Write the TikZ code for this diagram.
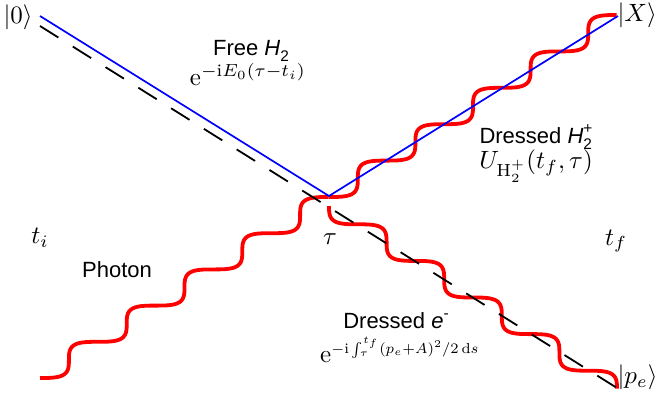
\documentclass[tikz,border=0pt]{standalone}
\usepackage{amsmath}
\usepackage{fontspec}
\newfontfamily\arial{Liberation Sans}
\newcommand\smallsans{\scriptsize}
\begin{document}
\begin{tikzpicture}[x=1pt,y=-1pt,
  mathlbl/.style={inner sep=0pt, scale=2.5, font=\normalsize},
  sanslbl/.style={inner sep=0pt, scale=2.2, font=\arial\normalsize},
  blueline/.style={draw=blue, line width=1.7pt},
  wave/.style={draw=red, line width=3.8pt},
  dashline/.style={draw=black, line width=1.8pt, dash pattern=on 21.7pt off 17pt}]
\useasboundingbox (0,0) rectangle (656,399);
% coordinates
\coordinate (b0) at (40,16);
\coordinate (v) at (329,196);
\coordinate (bX) at (618,16);
\coordinate (d0) at (40,26);
\coordinate (d1) at (617,388);
\coordinate (ph0) at (40,378);
\coordinate (up0) at (329,197);
\coordinate (lo0) at (329,206);
% waves
\draw[wave, shift={(ph0)}] plot[domain=0:5, samples=300, variable=\t]
  ({57.8*(\t+sin(360*\t)/(2*pi))}, {-36.2*(\t-sin(360*\t)/(2*pi))});
\draw[wave, shift={(up0)}] plot[domain=0:5, samples=300, variable=\t]
  ({57.6*(\t+sin(360*\t)/(2*pi))}, {-36.4*(\t-sin(360*\t)/(2*pi))});
\draw[wave, shift={(lo0)}] plot[domain=0:5, samples=300, variable=\t]
  ({57.6*(\t-sin(360*\t)/(2*pi))}, {36.6*(\t+sin(360*\t)/(2*pi))});
% dashed and blue lines
\draw[dashline] (d0) -- (d1);
\draw[blueline] (b0) -- (v) -- (bX);
% labels
\node[mathlbl, anchor=west] (k0) at (3,17) {$|0\rangle$};
\node[mathlbl, anchor=west] (kX) at (617,15) {$|X\rangle$};
\node[mathlbl, anchor=west] (kp) at (617,377) {$|p_e\rangle$};
\node[sanslbl] (free) at (251,51) {Free \textit{H}\raisebox{-0.3em}{\smallsans 2}};
\node[mathlbl] (freeexp) at (248,75) {$\mathrm{e}^{-\mathrm{i}E_0(\tau-t_i)}$};
\node[sanslbl] (dh) at (536,137) {Dressed \textit{H}\rlap{\raisebox{-0.3em}{\smallsans 2}}\raisebox{0.45em}{\smallsans +}};
\node[mathlbl] (dhexp) at (536,166) {$U_{\mathrm{H}_2^+}(t_f,\tau)$};
\node[sanslbl] (de) at (396,321) {Dressed \textit{e}\raisebox{0.45em}{\smallsans -}};
\node[mathlbl] (deexp) at (400,350) {$\mathrm{e}^{\scalebox{0.83}{$\scriptstyle -\mathrm{i}\int_\tau^{t_f}(p_e+A)^2/2\,\mathrm{d}s$}}$};
\node[mathlbl] (ti) at (40,238) {$t_i$};
\node[mathlbl] (tau) at (330,239) {$\tau$};
\node[mathlbl] (tf) at (616,241) {$t_f$};
\node[sanslbl] (photon) at (117,270) {Photon};
\end{tikzpicture}
\end{document}
